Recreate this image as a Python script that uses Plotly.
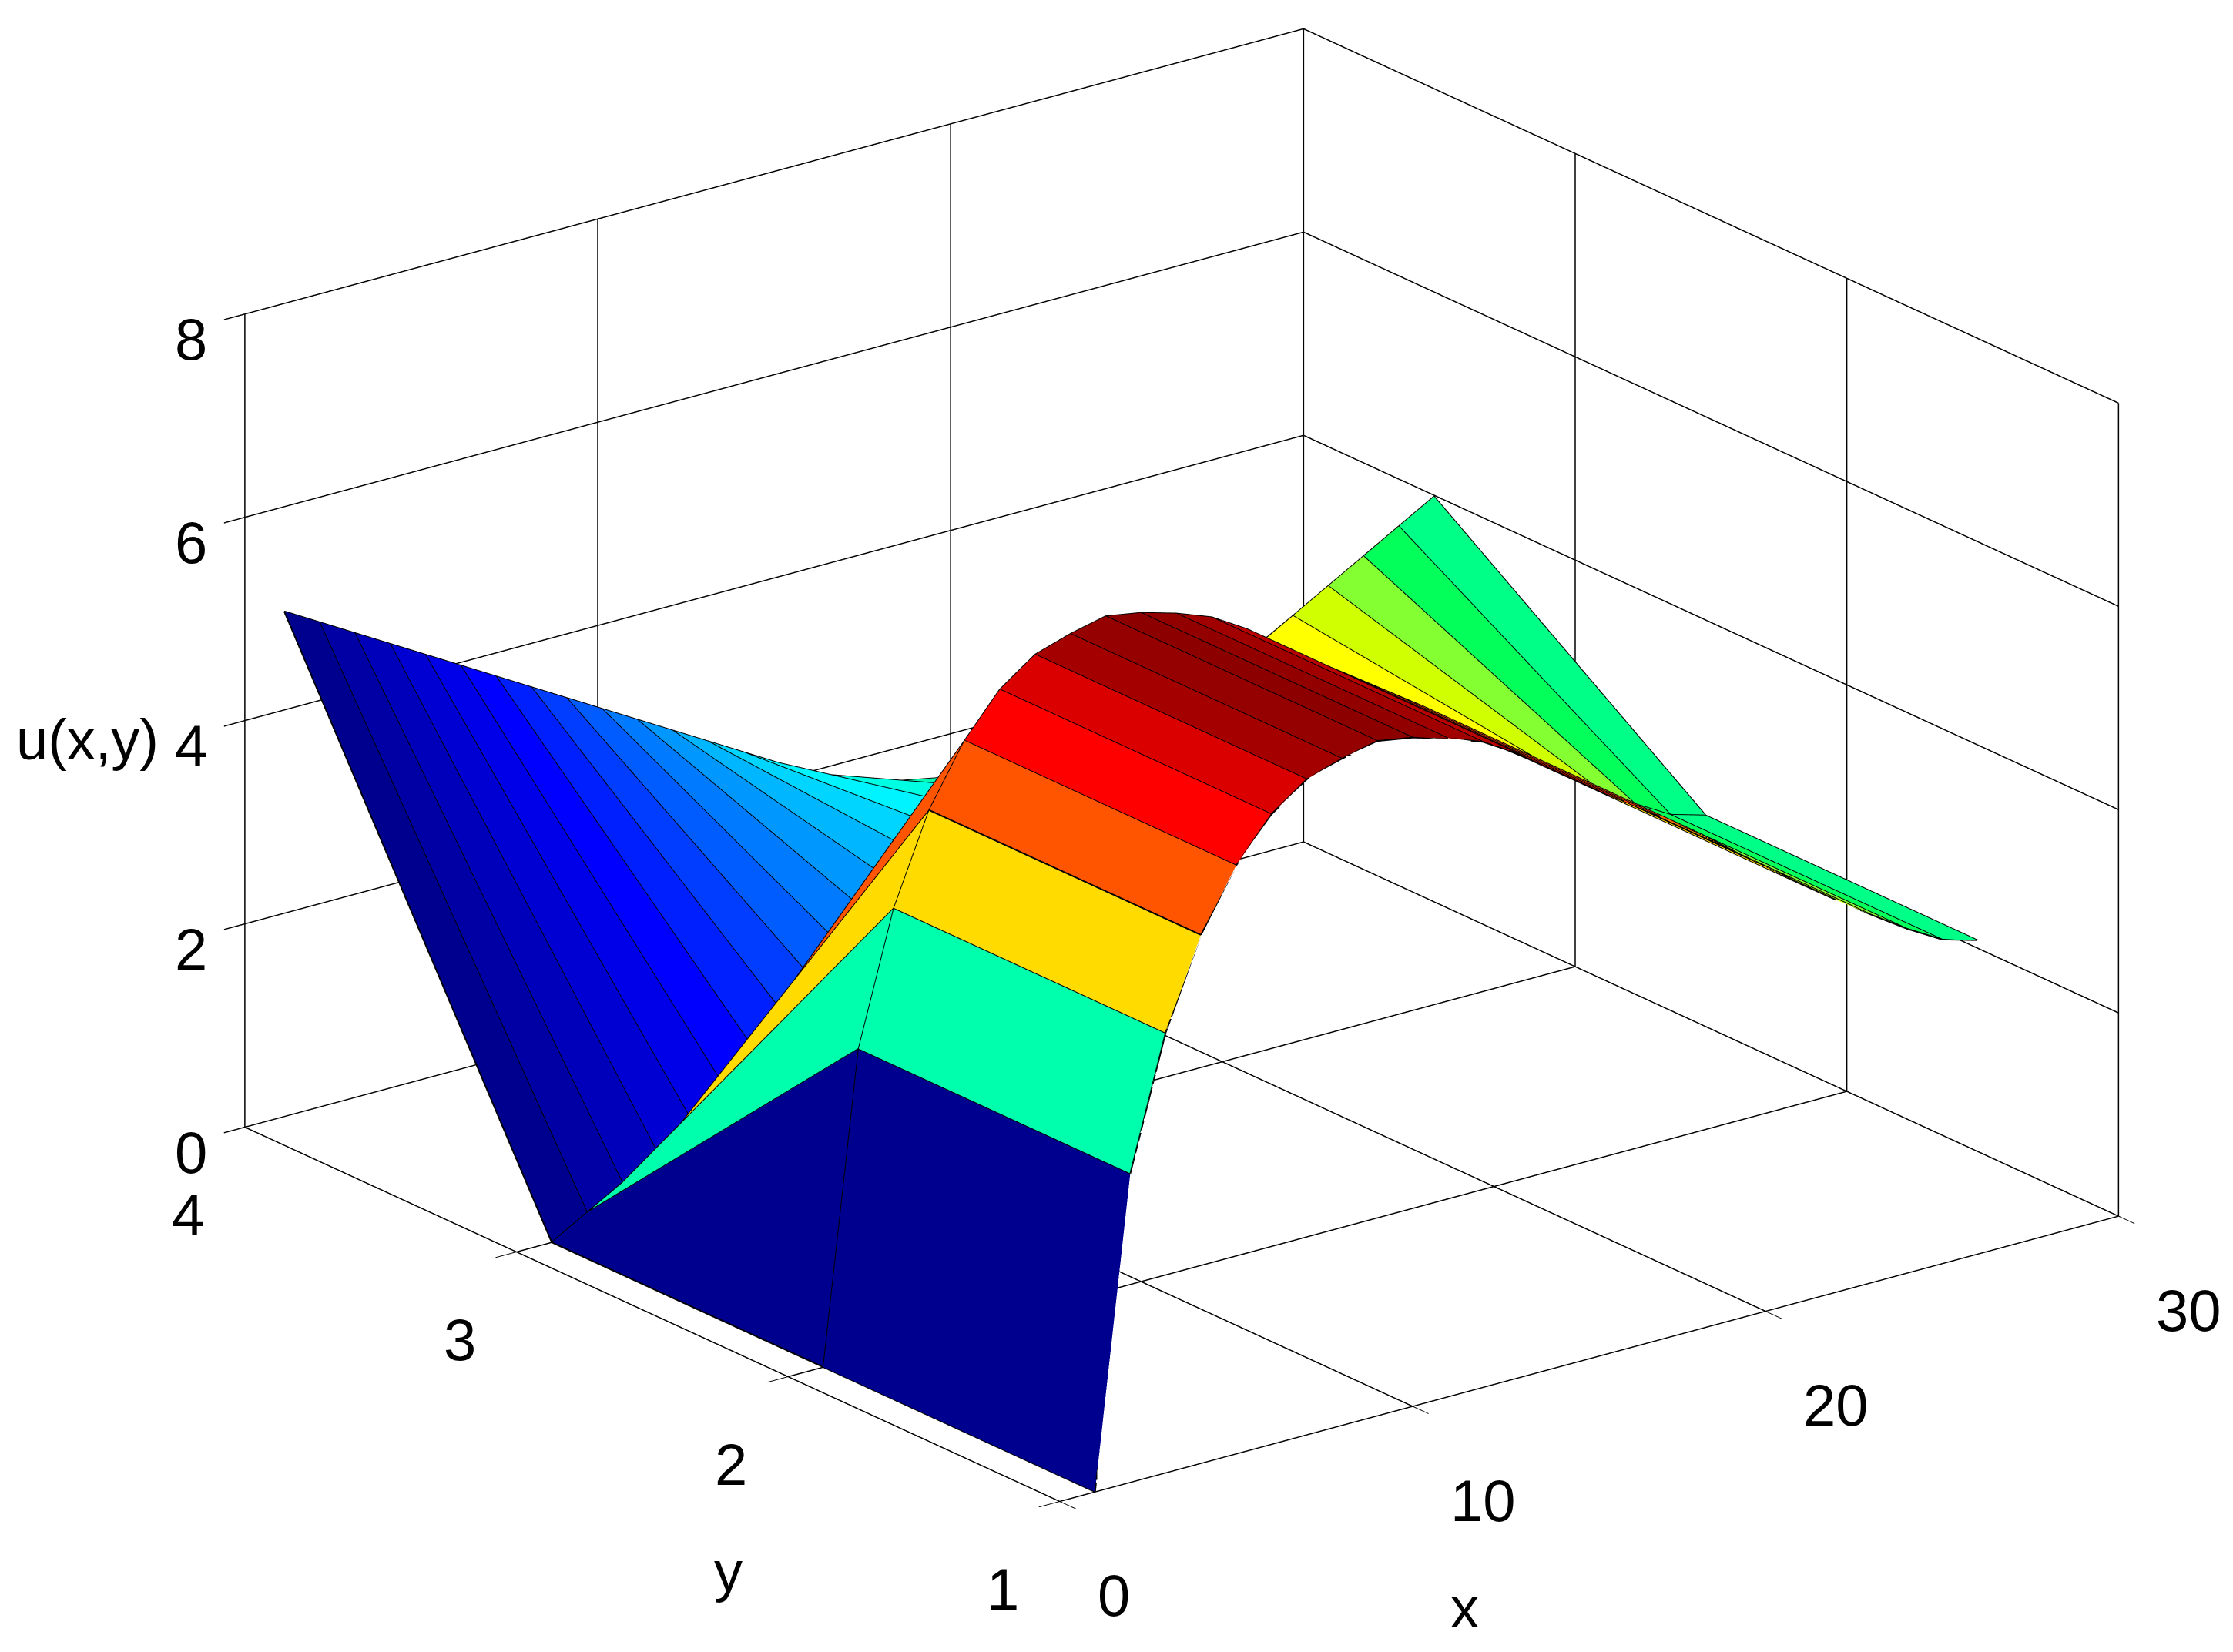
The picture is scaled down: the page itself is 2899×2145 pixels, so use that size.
import math
import plotly.graph_objects as go

# grid of the surface
x_values = list(range(1, 27))
y_values = [1, 2, 3, 3.985]

# u(x, y) along each y row
u_y1 = [0.0, 3.04, 4.33, 5.20, 5.79, 6.20, 6.45, 6.56, 6.64, 6.58, 6.48, 6.35, 6.14,
        5.88, 5.63, 5.39, 5.15, 4.91, 4.64, 4.38, 4.11, 3.86, 3.62, 3.39, 3.19, 3.09]
u_y2 = [0.0, 3.04, 4.33, 5.20, 5.79, 6.20, 6.45, 6.56, 6.64, 6.58, 6.48, 6.35, 6.14,
        5.88, 5.63, 5.39, 5.15, 4.91, 4.64, 4.38, 4.11, 3.86, 3.62, 3.39, 3.19, 3.09]
u_y3 = [0.0, 0.2, 0.4, 0.6, 0.8, 1.0, 1.2, 1.4, 1.6, 1.8, 2.0, 2.2, 2.4,
        2.6, 2.8, 3.0, 3.2, 3.4, 3.6, 3.8, 4.0, 4.2, 4.4, 4.6, 4.8, 5.0]
u_y4 = [5.0, 4.8, 4.6, 4.4, 4.2, 4.0, 3.8, 3.6, 3.4, 3.2, 3.0, 2.8, 2.6,
        2.4, 2.2, 2.0, 1.8, 1.6, 1.4, 1.2, 1.0, 0.8, 0.6, 0.4, 0.2, 0.0]
rows = [u_y1, u_y2, u_y3, u_y4]

x_ticks = [0, 10, 20, 30]
y_ticks = [1, 2, 3, 4]
z_ticks = [0, 2, 4, 6, 8]

# colour at given u
color_u = [0.0, 1.0, 2.6, 2.8, 3.04, 3.19, 3.39, 3.62, 3.86, 4.11, 4.33, 5.20, 5.79, 6.20, 6.45, 6.64]
color_rgb = ["rgb(0,0,143)", "rgb(0,0,255)", "rgb(0,245,255)", "rgb(0,255,225)", "rgb(0,255,170)",
             "rgb(0,255,130)", "rgb(0,255,90)", "rgb(130,255,50)", "rgb(205,255,0)", "rgb(255,255,0)",
             "rgb(255,221,0)", "rgb(255,85,0)", "rgb(255,0,0)", "rgb(222,0,0)", "rgb(165,0,0)", "rgb(140,0,0)"]
cmax = 6.64

nx, ny = len(x_values), len(y_values)
vx, vy, vz = [], [], []
for r in range(ny):
    for c in range(nx):
        vx.append(x_values[c]); vy.append(y_values[r]); vz.append(rows[r][c])

ti, tj, tk, tc = [], [], [], []
for r in range(ny - 1):
    for c in range(nx - 1):
        a = r * nx + c
        b = a + 1
        d = a + nx
        e = d + 1
        col = rows[r][c]
        ti += [a, a]; tj += [b, e]; tk += [e, d]; tc += [col, col]

ex, ey, ez = [], [], []
for r in range(ny):
    ex += x_values + [None]; ey += [y_values[r]] * nx + [None]; ez += rows[r] + [None]
for c in range(nx):
    ex += [x_values[c]] * ny + [None]; ey += y_values + [None]; ez += [rows[r][c] for r in range(ny)] + [None]

# box grid, drawn from the tick lists so that it comes out as dark as in the picture
xr = [x_ticks[0], x_ticks[-1]]
yr = [y_ticks[0], y_ticks[-1]]
zr = [z_ticks[0], z_ticks[-1]]
gx, gy, gz = [], [], []
for v in x_ticks:
    gx += [v, v, None, v, v, None]; gy += [yr[1], yr[1], None, yr[0], yr[1], None]; gz += [zr[0], zr[1], None, 0, 0, None]
for v in y_ticks:
    gx += [xr[1], xr[1], None, xr[0], xr[1], None]; gy += [v, v, None, v, v, None]; gz += [zr[0], zr[1], None, 0, 0, None]
for v in z_ticks:
    gx += [xr[0], xr[1], None, xr[1], xr[1], None]; gy += [yr[1], yr[1], None, yr[0], yr[1], None]; gz += [v, v, None, v, v, None]

fig = go.Figure()
fig.add_trace(go.Mesh3d(x=vx, y=vy, z=vz, i=ti, j=tj, k=tk, intensity=tc, intensitymode="cell",
                        cmin=0, cmax=cmax, showscale=False,
                        colorscale=[[u / cmax, col] for u, col in zip(color_u, color_rgb)],
                        flatshading=True,
                        lighting=dict(ambient=1, diffuse=0, specular=0, roughness=1, fresnel=0),
                        hoverinfo="skip"))
fig.add_trace(go.Scatter3d(x=ex, y=ey, z=ez, mode="lines", line=dict(color="black", width=4), hoverinfo="skip"))
fig.add_trace(go.Scatter3d(x=gx, y=gy, z=gz, mode="lines", line=dict(color="black", width=3), hoverinfo="skip"))

# view
phi = math.radians(232.55)
theta = math.radians(20.6)
dist = 2.0
px_per_unit = 1065.0
zoom = 1.6166
shift_right, shift_up = 84.0, 78.5
d = (math.cos(theta) * math.cos(phi), math.cos(theta) * math.sin(phi), math.sin(theta))
r_v = (-math.sin(phi), math.cos(phi), 0.0)
u_v = (-math.sin(theta) * math.cos(phi), -math.sin(theta) * math.sin(phi), math.cos(theta))
center = [-(shift_right * r_v[i] + shift_up * u_v[i]) / px_per_unit for i in range(3)]
eye = [center[i] + dist * d[i] for i in range(3)]

axis = dict(showbackground=False, showgrid=True, gridcolor="black", gridwidth=3,
            showline=True, linecolor="black", linewidth=3, zeroline=False,
            showspikes=False, ticks="outside", ticklen=34, tickwidth=3, tickcolor="black",
            showticklabels=False, title=dict(text=""))

font = dict(family="Liberation Sans", size=76, color="black")
scene_notes = []
for v in x_ticks:
    scene_notes.append(dict(x=v, y=1, z=0, text=str(v), showarrow=False, xanchor="left", yanchor="middle",
                            xshift=47, yshift=-122, font=font))
for v in y_ticks:
    scene_notes.append(dict(x=0, y=v, z=0, text=str(v), showarrow=False, xanchor="center", yanchor="middle",
                            xshift=-74, yshift=-114, font=font))
for v in z_ticks:
    scene_notes.append(dict(x=0, y=4, z=v, text=str(v), showarrow=False, xanchor="center", yanchor="middle",
                            xshift=-70, yshift=-33, font=font))

title_font = dict(family="Liberation Sans", size=74, color="black")
fig.update_layout(
    width=2899, height=2145, margin=dict(l=0, r=0, t=0, b=0), paper_bgcolor="white", showlegend=False,
    scene=dict(
        domain=dict(x=[0, 1], y=[0, 1]),
        aspectmode="manual", aspectratio=dict(x=zoom * 0.9986, y=zoom * 1.0035, z=0.6505 * zoom),
        camera=dict(projection=dict(type="orthographic"), up=dict(x=0, y=0, z=1),
                    eye=dict(x=eye[0], y=eye[1], z=eye[2]),
                    center=dict(x=center[0], y=center[1], z=center[2])),
        xaxis=dict(axis, range=[0, 30], tickvals=x_ticks),
        yaxis=dict(axis, range=[1, 4], tickvals=y_ticks),
        zaxis=dict(axis, range=[0, 8], tickvals=z_ticks),
        annotations=scene_notes,
    ),
    annotations=[
        dict(text="u(x,y)", x=113 / 2899, y=1 - 961 / 2145, xref="paper", yref="paper", showarrow=False,
             xanchor="center", yanchor="middle", font=title_font),
        dict(text="y", x=945 / 2899, y=1 - 2040 / 2145, xref="paper", yref="paper", showarrow=False,
             xanchor="center", yanchor="middle", font=title_font),
        dict(text="x", x=1901 / 2899, y=1 - 2087 / 2145, xref="paper", yref="paper", showarrow=False,
             xanchor="center", yanchor="middle", font=title_font),
    ],
)
fig.write_html("out.html", config={"displayModeBar": False}, post_script="document.body.style.margin='0';")
